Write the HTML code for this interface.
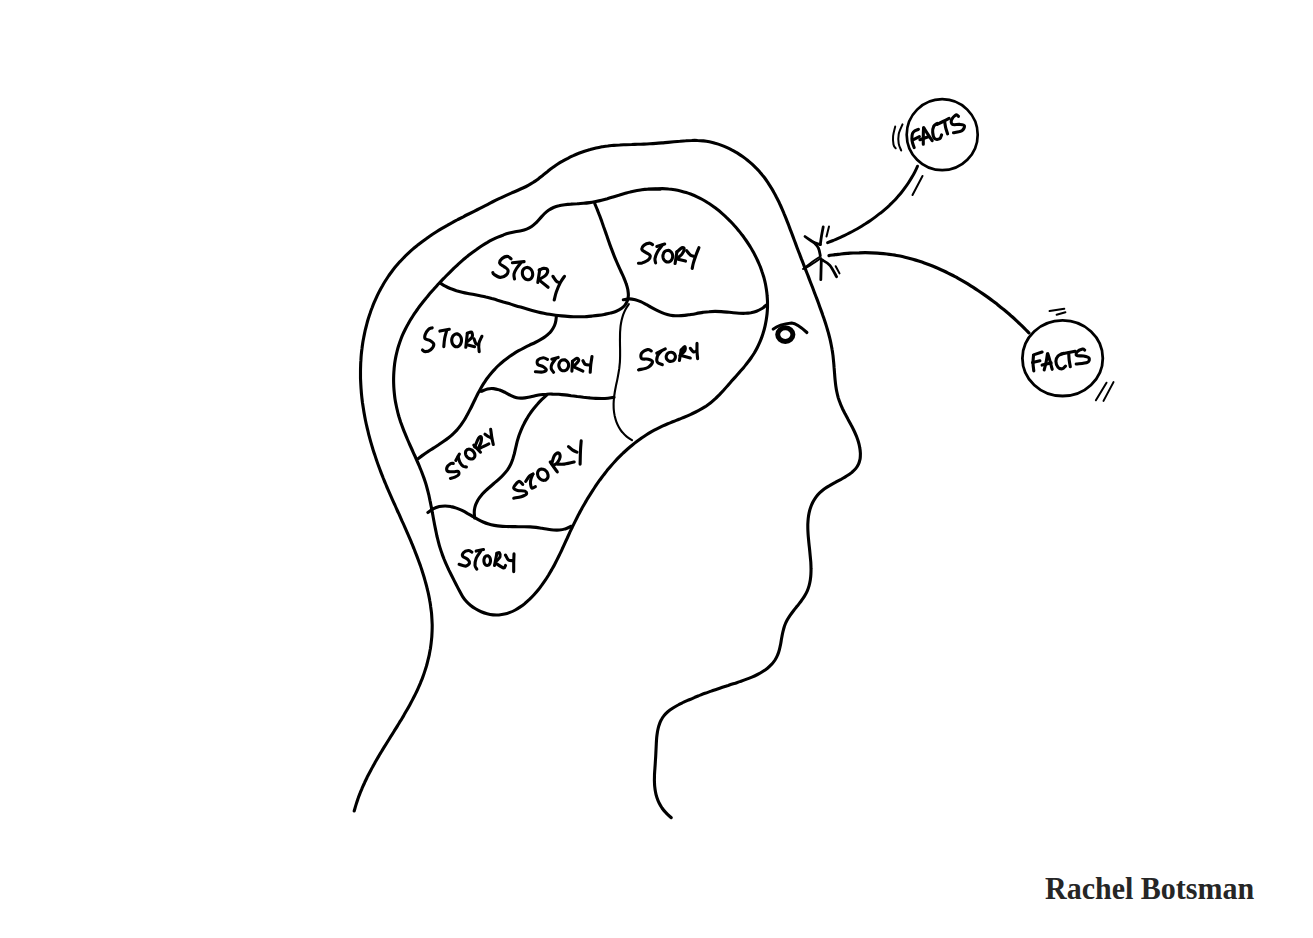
<!DOCTYPE html>
<html><head><meta charset="utf-8"><style>
html,body{margin:0;padding:0;background:#fff;width:1313px;height:938px;overflow:hidden}
svg{position:absolute;left:0;top:0}
.sig{position:absolute;left:1045px;top:872px;font-family:"Liberation Serif",serif;font-weight:bold;font-size:32px;line-height:1;color:#262626;white-space:nowrap;transform:scaleX(0.9375);transform-origin:0 0}
</style></head><body>
<svg width="1313" height="938" viewBox="0 0 1313 938">
<g fill="none" stroke="#000" stroke-width="3.1" stroke-linecap="round" stroke-linejoin="round">
<path d="M354.2 811.0 C354.5 810.0 355.3 807.1 355.9 805.1 C356.5 803.2 357.1 801.3 357.8 799.4 C358.4 797.5 359.1 795.6 359.9 793.7 C360.6 791.9 361.4 790.0 362.1 788.2 C362.9 786.4 363.7 784.5 364.6 782.7 C365.4 780.9 366.3 779.1 367.1 777.3 C368.0 775.6 368.9 773.8 369.9 772.0 C370.8 770.3 371.7 768.5 372.7 766.8 C373.6 765.0 374.6 763.3 375.6 761.5 C376.6 759.8 377.6 758.1 378.6 756.4 C379.6 754.6 380.7 752.9 381.7 751.2 C382.7 749.5 383.8 747.8 384.8 746.1 C385.9 744.4 387.0 742.7 388.0 741.0 C389.1 739.3 390.2 737.5 391.2 735.8 C392.3 734.1 393.4 732.4 394.4 730.7 C395.5 729.0 396.6 727.3 397.6 725.6 C398.7 723.9 399.7 722.1 400.8 720.4 C401.8 718.7 402.9 717.0 403.9 715.2 C404.9 713.5 405.9 711.7 406.9 710.0 C407.9 708.3 408.9 706.5 409.9 704.7 C410.8 703.0 411.8 701.2 412.7 699.4 C413.6 697.6 414.5 695.9 415.4 694.1 C416.3 692.3 417.2 690.5 418.0 688.6 C418.8 686.8 419.6 685.0 420.4 683.1 C421.1 681.3 421.9 679.4 422.6 677.6 C423.3 675.7 424.0 673.8 424.6 671.9 C425.2 670.0 425.8 668.1 426.4 666.2 C426.9 664.3 427.5 662.4 427.9 660.4 C428.4 658.5 428.9 656.5 429.3 654.6 C429.7 652.6 430.0 650.6 430.4 648.7 C430.7 646.7 431.0 644.7 431.2 642.7 C431.4 640.8 431.6 638.8 431.8 636.8 C431.9 634.8 432.0 632.8 432.1 630.8 C432.2 628.8 432.2 626.8 432.2 624.8 C432.1 622.8 432.0 620.8 431.9 618.9 C431.8 616.9 431.7 614.9 431.5 612.9 C431.3 610.9 431.0 608.9 430.7 606.9 C430.5 604.9 430.2 603.0 429.8 601.0 C429.5 599.0 429.1 597.0 428.7 595.1 C428.3 593.1 427.8 591.1 427.3 589.2 C426.9 587.2 426.4 585.3 425.8 583.3 C425.3 581.4 424.7 579.4 424.2 577.5 C423.6 575.5 423.0 573.6 422.4 571.7 C421.8 569.8 421.1 567.8 420.5 565.9 C419.8 564.0 419.1 562.1 418.4 560.2 C417.7 558.3 417.0 556.5 416.3 554.6 C415.6 552.7 414.8 550.8 414.1 549.0 C413.3 547.1 412.6 545.2 411.8 543.4 C411.1 541.5 410.3 539.7 409.5 537.9 C408.7 536.0 407.9 534.2 407.1 532.4 C406.3 530.5 405.5 528.7 404.7 526.9 C403.9 525.0 403.1 523.2 402.2 521.4 C401.4 519.6 400.6 517.8 399.8 515.9 C399.0 514.1 398.1 512.3 397.3 510.5 C396.5 508.7 395.7 506.8 394.9 505.0 C394.0 503.2 393.2 501.4 392.4 499.6 C391.6 497.7 390.8 495.9 390.0 494.1 C389.2 492.3 388.4 490.4 387.6 488.6 C386.8 486.8 386.1 484.9 385.3 483.1 C384.5 481.2 383.8 479.4 383.0 477.5 C382.3 475.7 381.5 473.8 380.8 471.9 C380.1 470.1 379.4 468.2 378.7 466.3 C378.0 464.4 377.3 462.5 376.7 460.6 C376.0 458.7 375.4 456.8 374.8 454.9 C374.1 453.0 373.5 451.1 372.9 449.2 C372.3 447.2 371.7 445.3 371.2 443.4 C370.6 441.5 370.1 439.5 369.6 437.6 C369.0 435.6 368.5 433.7 368.1 431.7 C367.6 429.8 367.1 427.8 366.7 425.9 C366.2 423.9 365.8 421.9 365.4 420.0 C365.0 418.0 364.6 416.0 364.3 414.1 C363.9 412.1 363.6 410.1 363.3 408.1 C363.0 406.2 362.7 404.2 362.4 402.2 C362.2 400.2 361.9 398.2 361.7 396.2 C361.5 394.2 361.3 392.3 361.2 390.3 C361.0 388.3 360.9 386.3 360.8 384.3 C360.7 382.3 360.6 380.3 360.5 378.3 C360.5 376.3 360.5 374.3 360.5 372.3 C360.5 370.3 360.5 368.4 360.6 366.4 C360.6 364.4 360.7 362.4 360.9 360.4 C361.0 358.4 361.1 356.4 361.3 354.4 C361.5 352.4 361.7 350.5 362.0 348.5 C362.2 346.5 362.5 344.5 362.8 342.5 C363.1 340.5 363.5 338.6 363.9 336.6 C364.3 334.6 364.7 332.7 365.1 330.7 C365.6 328.7 366.1 326.8 366.6 324.8 C367.1 322.9 367.6 320.9 368.2 319.0 C368.8 317.0 369.4 315.1 370.1 313.2 C370.7 311.3 371.4 309.4 372.2 307.5 C372.9 305.6 373.6 303.7 374.4 301.9 C375.2 300.0 376.1 298.2 376.9 296.4 C377.8 294.5 378.7 292.7 379.6 290.9 C380.5 289.2 381.5 287.4 382.5 285.7 C383.5 283.9 384.5 282.2 385.6 280.5 C386.7 278.8 387.8 277.2 388.9 275.5 C390.0 273.9 391.2 272.3 392.4 270.7 C393.6 269.2 394.8 267.6 396.1 266.1 C397.4 264.6 398.7 263.1 400.0 261.6 C401.4 260.2 402.7 258.7 404.1 257.3 C405.5 255.9 406.9 254.6 408.4 253.2 C409.8 251.9 411.3 250.5 412.8 249.2 C414.3 247.9 415.8 246.7 417.4 245.4 C418.9 244.2 420.5 242.9 422.1 241.7 C423.7 240.5 425.3 239.3 426.9 238.2 C428.5 237.0 430.2 235.9 431.8 234.8 C433.5 233.7 435.2 232.6 436.9 231.5 C438.6 230.4 440.3 229.4 442.0 228.4 C443.8 227.3 445.5 226.3 447.3 225.3 C449.0 224.3 450.8 223.4 452.6 222.4 C454.3 221.4 456.1 220.5 457.9 219.5 C459.7 218.6 461.5 217.7 463.3 216.8 C465.1 215.8 466.9 214.9 468.7 214.0 C470.5 213.1 472.3 212.2 474.1 211.3 C475.9 210.4 477.7 209.5 479.4 208.6 C481.2 207.7 483.0 206.8 484.8 205.9 C486.6 205.0 488.3 204.1 490.1 203.1 C491.9 202.2 493.6 201.3 495.4 200.4 C497.2 199.5 499.0 198.6 500.8 197.8 C502.6 196.9 504.4 196.1 506.2 195.3 C508.1 194.5 509.9 193.7 511.8 192.9 C513.7 192.1 515.5 191.4 517.4 190.5 C519.2 189.7 521.0 188.9 522.9 188.0 C524.7 187.2 526.5 186.3 528.2 185.3 C530.0 184.4 531.7 183.4 533.4 182.3 C535.0 181.2 536.7 180.1 538.3 178.9 C539.9 177.7 541.4 176.4 543.0 175.2 C544.5 173.9 546.1 172.6 547.7 171.4 C549.2 170.2 550.8 168.9 552.4 167.8 C554.1 166.6 555.7 165.4 557.4 164.3 C559.1 163.2 560.8 162.2 562.6 161.2 C564.3 160.2 566.1 159.2 567.9 158.3 C569.6 157.4 571.5 156.5 573.3 155.7 C575.1 154.8 577.0 154.0 578.8 153.3 C580.7 152.6 582.6 151.9 584.5 151.2 C586.4 150.6 588.3 150.0 590.2 149.5 C592.2 148.9 594.1 148.4 596.0 148.0 C598.0 147.6 599.9 147.2 601.9 146.8 C603.9 146.5 605.8 146.2 607.8 146.0 C609.8 145.7 611.8 145.6 613.8 145.4 C615.7 145.2 617.7 145.1 619.7 145.0 C621.7 144.8 623.7 144.8 625.7 144.7 C627.7 144.6 629.7 144.5 631.7 144.5 C633.8 144.4 635.8 144.4 637.8 144.3 C639.8 144.2 641.8 144.2 643.8 144.1 C645.8 144.0 647.9 143.9 649.9 143.8 C651.9 143.7 653.9 143.5 655.9 143.4 C657.9 143.3 659.9 143.1 661.9 142.9 C663.9 142.7 665.9 142.6 667.9 142.4 C669.9 142.2 671.9 142.0 673.9 141.8 C675.9 141.6 677.9 141.4 679.9 141.3 C681.9 141.1 683.8 140.9 685.8 140.8 C687.8 140.6 689.8 140.5 691.7 140.5 C693.7 140.4 695.7 140.4 697.6 140.5 C699.6 140.5 701.5 140.7 703.5 140.9 C705.5 141.1 707.4 141.4 709.4 141.8 C711.3 142.2 713.3 142.7 715.2 143.3 C717.1 143.8 719.1 144.4 721.0 145.1 C722.9 145.8 724.8 146.6 726.6 147.4 C728.5 148.2 730.3 149.1 732.1 150.1 C733.9 151.0 735.7 152.1 737.5 153.1 C739.2 154.2 740.9 155.3 742.6 156.5 C744.3 157.7 745.9 158.9 747.5 160.2 C749.1 161.5 750.6 162.8 752.1 164.1 C753.6 165.5 755.0 166.9 756.4 168.3 C757.8 169.8 759.2 171.2 760.4 172.7 C761.7 174.2 763.0 175.8 764.2 177.3 C765.4 178.9 766.5 180.5 767.6 182.1 C768.7 183.8 769.8 185.4 770.8 187.1 C771.9 188.8 772.9 190.5 773.8 192.2 C774.8 193.9 775.7 195.7 776.6 197.5 C777.5 199.2 778.4 201.0 779.3 202.8 C780.1 204.6 781.0 206.4 781.8 208.3 C782.6 210.1 783.4 211.9 784.1 213.8 C784.9 215.7 785.7 217.5 786.4 219.4 C787.1 221.3 787.9 223.2 788.6 225.0 C789.3 226.9 790.0 228.8 790.7 230.7 C791.5 232.6 792.2 234.5 792.9 236.4 C793.6 238.3 794.3 240.1 795.0 242.0 C795.7 243.9 796.4 245.8 797.1 247.7 C797.8 249.5 798.5 251.4 799.3 253.3 C800.0 255.2 800.7 257.0 801.4 258.9 C802.2 260.8 802.9 262.6 803.6 264.5 C804.3 266.3 805.1 268.2 805.8 270.1 C806.5 271.9 807.2 273.8 808.0 275.6 C808.7 277.5 809.4 279.4 810.1 281.2 C810.8 283.1 811.6 285.0 812.3 286.8 C813.0 288.7 813.7 290.6 814.4 292.5 C815.1 294.3 815.8 296.2 816.6 298.1 C817.3 300.0 818.0 301.8 818.7 303.7 C819.3 305.6 820.0 307.5 820.7 309.4 C821.4 311.2 822.1 313.1 822.7 315.0 C823.4 316.9 824.0 318.8 824.7 320.7 C825.3 322.6 825.9 324.5 826.5 326.4 C827.1 328.3 827.6 330.2 828.2 332.1 C828.7 334.0 829.2 336.0 829.7 337.9 C830.2 339.8 830.6 341.8 831.0 343.7 C831.4 345.7 831.8 347.7 832.1 349.6 C832.5 351.6 832.7 353.6 833.0 355.6 C833.2 357.6 833.4 359.6 833.6 361.7 C833.8 363.7 834.0 365.7 834.1 367.7 C834.3 369.8 834.4 371.8 834.6 373.8 C834.7 375.9 834.9 377.9 835.1 379.9 C835.3 381.9 835.5 383.9 835.8 385.9 C836.1 387.9 836.4 389.9 836.8 391.8 C837.2 393.8 837.7 395.7 838.2 397.6 C838.8 399.5 839.4 401.4 840.2 403.2 C840.9 405.1 841.7 406.9 842.5 408.7 C843.4 410.5 844.3 412.3 845.2 414.1 C846.2 415.9 847.2 417.6 848.1 419.4 C849.1 421.2 850.1 423.0 851.0 424.8 C852.0 426.6 852.9 428.4 853.8 430.2 C854.7 432.0 855.5 433.9 856.3 435.8 C857.0 437.7 857.7 439.6 858.3 441.5 C858.9 443.5 859.4 445.5 859.7 447.4 C860.1 449.4 860.3 451.4 860.4 453.3 C860.4 455.2 860.4 457.1 860.1 458.9 C859.7 460.7 859.3 462.5 858.5 464.1 C857.8 465.7 856.8 467.2 855.7 468.6 C854.5 470.1 853.1 471.3 851.6 472.6 C850.1 473.8 848.4 474.9 846.6 476.0 C844.9 477.2 843.0 478.2 841.1 479.3 C839.2 480.3 837.2 481.3 835.3 482.4 C833.4 483.4 831.4 484.5 829.6 485.6 C827.7 486.7 825.9 487.8 824.2 489.0 C822.6 490.3 821.0 491.6 819.6 492.9 C818.2 494.3 816.9 495.8 815.8 497.3 C814.7 498.9 813.7 500.5 812.8 502.2 C812.0 503.8 811.2 505.6 810.6 507.4 C810.0 509.1 809.5 511.0 809.1 512.9 C808.7 514.7 808.4 516.7 808.2 518.6 C808.0 520.6 807.9 522.6 807.8 524.6 C807.8 526.6 807.8 528.6 807.9 530.7 C808.0 532.7 808.1 534.8 808.3 536.9 C808.5 539.0 808.7 541.1 808.9 543.2 C809.1 545.3 809.4 547.4 809.6 549.5 C809.8 551.6 810.0 553.7 810.2 555.8 C810.4 557.9 810.6 560.0 810.8 562.1 C810.9 564.1 811.0 566.2 811.0 568.2 C811.1 570.2 811.0 572.3 810.9 574.2 C810.8 576.2 810.6 578.2 810.3 580.1 C810.0 582.0 809.6 583.9 809.1 585.7 C808.6 587.5 808.0 589.3 807.2 591.1 C806.4 592.8 805.5 594.5 804.5 596.1 C803.5 597.8 802.3 599.4 801.2 601.0 C800.0 602.6 798.7 604.2 797.5 605.8 C796.2 607.4 794.9 608.9 793.7 610.5 C792.4 612.2 791.2 613.8 790.1 615.4 C788.9 617.1 787.9 618.8 786.9 620.6 C786.0 622.3 785.2 624.1 784.5 626.0 C783.9 627.9 783.4 629.9 782.9 631.8 C782.4 633.8 782.1 635.8 781.7 637.8 C781.3 639.8 781.1 641.8 780.7 643.8 C780.3 645.8 779.9 647.7 779.4 649.6 C778.9 651.5 778.4 653.3 777.6 655.0 C776.9 656.8 776.0 658.4 775.0 660.0 C774.0 661.5 772.9 663.0 771.6 664.3 C770.4 665.7 769.0 667.0 767.5 668.2 C766.0 669.4 764.4 670.5 762.7 671.5 C761.1 672.6 759.3 673.6 757.5 674.5 C755.7 675.4 753.8 676.3 751.9 677.1 C750.0 677.9 748.0 678.7 746.0 679.4 C744.1 680.2 742.0 680.9 740.0 681.6 C738.0 682.3 736.0 682.9 734.1 683.6 C732.1 684.2 730.1 684.8 728.2 685.5 C726.2 686.1 724.3 686.7 722.4 687.3 C720.5 688.0 718.7 688.6 716.8 689.2 C714.9 689.8 713.1 690.5 711.3 691.1 C709.4 691.8 707.6 692.4 705.8 693.1 C703.9 693.7 702.1 694.4 700.3 695.1 C698.5 695.8 696.7 696.6 694.8 697.3 C693.0 698.1 691.2 698.9 689.3 699.7 C687.5 700.5 685.6 701.3 683.7 702.2 C681.9 703.1 679.9 704.0 678.1 705.0 C676.2 706.0 674.4 707.0 672.6 708.2 C670.9 709.3 669.2 710.5 667.8 711.7 C666.3 713.0 664.9 714.4 663.8 715.9 C662.6 717.4 661.7 719.0 660.9 720.6 C660.0 722.3 659.4 724.1 658.8 725.9 C658.3 727.7 657.9 729.6 657.5 731.5 C657.2 733.5 656.9 735.5 656.7 737.5 C656.5 739.5 656.4 741.6 656.3 743.7 C656.2 745.8 656.1 747.9 656.0 750.0 C655.9 752.1 655.8 754.2 655.7 756.3 C655.6 758.3 655.4 760.4 655.3 762.5 C655.2 764.5 655.0 766.6 654.9 768.6 C654.7 770.6 654.6 772.7 654.5 774.6 C654.5 776.6 654.4 778.6 654.4 780.6 C654.5 782.5 654.5 784.4 654.7 786.4 C654.9 788.3 655.1 790.1 655.5 792.0 C655.8 793.9 656.3 795.7 656.9 797.5 C657.5 799.3 658.1 801.1 659.0 802.8 C659.9 804.6 660.9 806.3 662.0 808.0 C663.2 809.7 664.5 811.3 666.1 812.9 C667.6 814.6 670.4 816.9 671.2 817.7"/>
<path d="M649.6 189.3 C650.7 189.2 654.0 188.8 656.1 188.7 C658.3 188.6 660.4 188.6 662.5 188.6 C664.5 188.6 666.6 188.8 668.6 189.0 C670.7 189.1 672.7 189.4 674.7 189.7 C676.6 190.1 678.6 190.5 680.5 190.9 C682.4 191.4 684.3 191.9 686.2 192.5 C688.1 193.1 689.9 193.8 691.8 194.5 C693.6 195.2 695.4 196.0 697.1 196.8 C698.9 197.7 700.7 198.6 702.4 199.5 C704.1 200.4 705.8 201.4 707.4 202.5 C709.1 203.5 710.7 204.6 712.3 205.7 C714.0 206.9 715.5 208.1 717.1 209.3 C718.7 210.5 720.2 211.8 721.7 213.1 C723.2 214.4 724.7 215.7 726.1 217.1 C727.6 218.5 729.0 219.9 730.4 221.3 C731.8 222.8 733.2 224.3 734.5 225.8 C735.9 227.3 737.2 228.8 738.5 230.4 C739.7 231.9 741.0 233.5 742.2 235.1 C743.5 236.7 744.6 238.4 745.8 240.0 C747.0 241.7 748.1 243.4 749.2 245.1 C750.2 246.8 751.3 248.5 752.3 250.3 C753.3 252.0 754.3 253.8 755.2 255.6 C756.1 257.4 757.0 259.2 757.8 261.0 C758.6 262.8 759.4 264.7 760.2 266.5 C760.9 268.4 761.6 270.3 762.2 272.2 C762.9 274.1 763.4 276.0 764.0 277.9 C764.5 279.8 765.0 281.8 765.4 283.7 C765.8 285.6 766.1 287.6 766.4 289.6 C766.7 291.6 767.0 293.5 767.1 295.5 C767.3 297.5 767.4 299.5 767.5 301.5 C767.5 303.5 767.5 305.5 767.5 307.5 C767.4 309.5 767.3 311.5 767.1 313.5 C766.9 315.5 766.6 317.5 766.3 319.5 C766.0 321.4 765.6 323.4 765.2 325.4 C764.8 327.3 764.3 329.3 763.7 331.2 C763.2 333.1 762.6 335.0 761.9 336.9 C761.2 338.7 760.5 340.6 759.7 342.4 C758.9 344.2 758.1 346.0 757.2 347.8 C756.3 349.6 755.3 351.3 754.3 353.0 C753.2 354.7 752.1 356.4 751.0 358.0 C749.9 359.6 748.7 361.2 747.4 362.8 C746.2 364.4 744.9 365.9 743.7 367.5 C742.4 369.0 741.0 370.5 739.7 372.0 C738.4 373.6 737.0 375.1 735.7 376.6 C734.3 378.1 732.9 379.6 731.6 381.1 C730.3 382.6 728.9 384.1 727.6 385.7 C726.2 387.2 724.9 388.7 723.6 390.2 C722.2 391.7 720.8 393.2 719.5 394.6 C718.1 396.0 716.7 397.5 715.2 398.8 C713.8 400.1 712.3 401.5 710.7 402.7 C709.2 403.9 707.6 405.1 706.0 406.2 C704.4 407.2 702.7 408.3 701.0 409.2 C699.2 410.2 697.5 411.1 695.7 412.0 C693.9 412.9 692.1 413.8 690.3 414.6 C688.4 415.4 686.6 416.2 684.7 417.0 C682.8 417.7 681.0 418.5 679.1 419.2 C677.2 420.0 675.3 420.7 673.4 421.5 C671.6 422.3 669.7 423.0 667.8 423.8 C666.0 424.6 664.1 425.4 662.3 426.2 C660.5 427.1 658.7 428.0 656.9 428.9 C655.1 429.8 653.4 430.7 651.6 431.7 C649.9 432.7 648.2 433.7 646.5 434.8 C644.9 435.8 643.2 436.9 641.6 438.0 C640.0 439.2 638.4 440.3 636.8 441.5 C635.2 442.7 633.7 443.9 632.1 445.2 C630.6 446.4 629.1 447.7 627.6 449.0 C626.1 450.3 624.7 451.6 623.2 453.0 C621.8 454.4 620.4 455.8 619.0 457.2 C617.6 458.6 616.2 460.1 614.9 461.5 C613.5 463.0 612.2 464.5 610.9 466.0 C609.6 467.5 608.3 469.1 607.0 470.6 C605.8 472.2 604.5 473.8 603.3 475.4 C602.1 477.0 600.9 478.6 599.7 480.2 C598.5 481.9 597.3 483.5 596.2 485.2 C595.1 486.9 593.9 488.6 592.8 490.3 C591.7 492.0 590.6 493.7 589.6 495.4 C588.5 497.1 587.4 498.8 586.4 500.6 C585.4 502.3 584.4 504.1 583.4 505.8 C582.4 507.6 581.4 509.4 580.5 511.1 C579.5 512.9 578.6 514.7 577.6 516.5 C576.7 518.3 575.8 520.1 574.9 521.9 C574.0 523.7 573.1 525.5 572.3 527.2 C571.4 529.0 570.6 530.8 569.7 532.6 C568.9 534.4 568.1 536.2 567.3 538.0 C566.4 539.8 565.6 541.6 564.8 543.4 C564.0 545.2 563.2 547.0 562.3 548.8 C561.5 550.6 560.7 552.3 559.8 554.1 C558.9 555.9 558.1 557.6 557.2 559.4 C556.3 561.2 555.4 562.9 554.5 564.7 C553.6 566.4 552.6 568.1 551.6 569.9 C550.6 571.6 549.6 573.3 548.6 575.0 C547.5 576.7 546.5 578.4 545.3 580.1 C544.2 581.7 543.0 583.4 541.8 585.1 C540.6 586.7 539.4 588.4 538.1 590.0 C536.8 591.6 535.4 593.2 534.0 594.7 C532.6 596.2 531.2 597.7 529.7 599.2 C528.2 600.6 526.7 602.0 525.1 603.3 C523.6 604.6 522.0 605.8 520.3 606.9 C518.7 608.0 517.0 609.1 515.3 610.0 C513.6 610.9 511.8 611.8 510.0 612.4 C508.2 613.1 506.4 613.7 504.6 614.1 C502.7 614.5 500.8 614.8 498.9 615.0 C497.0 615.1 495.0 615.1 493.1 614.9 C491.1 614.7 489.1 614.3 487.1 613.7 C485.1 613.2 483.1 612.5 481.2 611.7 C479.2 610.9 477.3 609.9 475.5 608.8 C473.7 607.7 472.0 606.5 470.4 605.2 C468.8 603.9 467.3 602.5 466.0 601.0 C464.7 599.6 463.6 598.0 462.5 596.3 C461.5 594.7 460.6 593.0 459.7 591.3 C458.8 589.6 457.9 587.9 457.0 586.1 C456.1 584.4 455.2 582.6 454.3 580.9 C453.4 579.1 452.5 577.3 451.6 575.5 C450.7 573.7 449.8 571.9 448.9 570.1 C448.1 568.3 447.2 566.4 446.4 564.6 C445.6 562.7 444.8 560.9 444.0 559.0 C443.3 557.1 442.5 555.2 441.9 553.3 C441.2 551.4 440.6 549.5 440.0 547.6 C439.4 545.7 438.9 543.8 438.4 541.8 C437.9 539.9 437.4 537.9 436.9 536.0 C436.5 534.0 436.1 532.1 435.7 530.1 C435.3 528.2 434.9 526.2 434.5 524.2 C434.1 522.3 433.8 520.3 433.4 518.3 C433.0 516.3 432.7 514.4 432.3 512.4 C432.0 510.4 431.6 508.5 431.2 506.5 C430.8 504.5 430.5 502.6 430.0 500.6 C429.6 498.7 429.2 496.7 428.8 494.8 C428.3 492.9 427.8 490.9 427.3 489.0 C426.8 487.1 426.3 485.2 425.7 483.3 C425.1 481.4 424.5 479.5 423.8 477.6 C423.1 475.8 422.4 473.9 421.7 472.0 C421.0 470.2 420.2 468.3 419.5 466.5 C418.7 464.6 417.9 462.8 417.1 461.0 C416.3 459.1 415.5 457.3 414.7 455.5 C413.8 453.7 413.0 451.8 412.2 450.0 C411.4 448.2 410.5 446.3 409.7 444.5 C408.9 442.7 408.1 440.8 407.3 439.0 C406.5 437.1 405.7 435.3 405.0 433.4 C404.2 431.6 403.5 429.7 402.8 427.9 C402.1 426.0 401.4 424.1 400.7 422.2 C400.1 420.3 399.5 418.4 398.9 416.5 C398.4 414.6 397.8 412.7 397.4 410.7 C396.9 408.8 396.5 406.8 396.1 404.9 C395.7 402.9 395.3 400.9 395.0 398.9 C394.7 397.0 394.5 395.0 394.3 393.0 C394.1 391.0 393.9 389.0 393.8 387.0 C393.7 385.0 393.6 383.0 393.6 381.1 C393.6 379.1 393.6 377.1 393.7 375.1 C393.8 373.1 393.9 371.1 394.1 369.1 C394.2 367.2 394.5 365.2 394.7 363.2 C395.0 361.3 395.3 359.3 395.7 357.4 C396.1 355.4 396.5 353.5 397.0 351.6 C397.5 349.6 398.0 347.7 398.6 345.8 C399.2 344.0 399.8 342.1 400.5 340.2 C401.2 338.4 401.9 336.5 402.7 334.7 C403.5 332.9 404.4 331.1 405.3 329.3 C406.2 327.5 407.1 325.7 408.1 324.0 C409.1 322.2 410.1 320.5 411.1 318.8 C412.2 317.1 413.3 315.4 414.4 313.7 C415.6 312.0 416.7 310.3 417.9 308.7 C419.1 307.0 420.3 305.4 421.6 303.8 C422.8 302.2 424.1 300.6 425.4 299.0 C426.6 297.4 428.0 295.9 429.3 294.3 C430.6 292.8 431.9 291.2 433.3 289.7 C434.6 288.2 436.0 286.7 437.3 285.2 C438.7 283.7 440.1 282.3 441.4 280.8 C442.8 279.4 444.2 277.9 445.6 276.5 C447.0 275.1 448.4 273.7 449.8 272.3 C451.2 270.9 452.6 269.5 454.0 268.1 C455.4 266.8 456.9 265.5 458.3 264.1 C459.8 262.8 461.3 261.5 462.8 260.2 C464.3 258.9 465.8 257.7 467.3 256.4 C468.9 255.2 470.4 253.9 472.0 252.7 C473.6 251.5 475.2 250.3 476.9 249.2 C478.5 248.0 480.2 246.9 481.9 245.8 C483.6 244.7 485.3 243.6 487.1 242.6 C488.8 241.6 490.6 240.6 492.4 239.7 C494.2 238.8 496.0 237.9 497.9 237.1 C499.7 236.3 501.6 235.5 503.5 234.9 C505.4 234.2 507.3 233.6 509.3 233.1 C511.2 232.6 513.2 232.2 515.2 231.8 C517.1 231.4 519.1 231.1 521.1 230.7 C523.0 230.3 524.9 229.8 526.6 229.1 C528.4 228.4 530.0 227.6 531.6 226.5 C533.1 225.5 534.6 224.1 536.0 222.8 C537.4 221.4 538.7 219.9 540.0 218.4 C541.4 216.9 542.7 215.4 544.1 214.0 C545.5 212.6 546.9 211.3 548.5 210.2 C550.1 209.2 551.7 208.3 553.5 207.5 C555.2 206.8 557.1 206.2 558.9 205.8 C560.8 205.3 562.8 205.0 564.8 204.7 C566.8 204.4 568.9 204.2 570.9 204.1 C573.0 203.9 575.1 203.8 577.2 203.7 C579.3 203.5 581.4 203.4 583.5 203.2 C585.5 203.1 587.6 202.9 589.6 202.6 C591.7 202.3 593.7 201.9 595.7 201.5 C597.7 201.1 599.6 200.7 601.6 200.2 C603.5 199.7 605.5 199.2 607.4 198.7 C609.3 198.1 611.2 197.6 613.1 197.0 C615.0 196.4 616.9 195.8 618.8 195.3 C620.7 194.7 622.6 194.1 624.5 193.6 C626.4 193.1 628.3 192.5 630.2 192.1 C632.1 191.6 634.0 191.1 635.9 190.7 C637.9 190.4 639.8 190.0 641.8 189.7 C643.8 189.4 645.7 189.2 647.8 189.1 C649.8 188.9 651.8 188.9 653.9 188.9 C655.9 188.9 659.1 189.2 660.2 189.3"/>
<path d="M440.0 283.0 C440.9 283.5 443.5 285.3 445.3 286.2 C447.1 287.2 448.9 288.0 450.8 288.7 C452.6 289.5 454.5 290.1 456.4 290.7 C458.3 291.2 460.3 291.7 462.2 292.2 C464.2 292.7 466.1 293.1 468.1 293.5 C470.1 293.9 472.1 294.2 474.0 294.6 C476.0 295.0 478.0 295.4 480.0 295.8 C481.9 296.2 483.9 296.6 485.9 297.1 C487.8 297.5 489.8 298.0 491.7 298.6 C493.7 299.1 495.6 299.6 497.5 300.2 C499.5 300.7 501.4 301.3 503.3 301.9 C505.2 302.4 507.2 303.0 509.1 303.6 C511.0 304.2 512.9 304.8 514.8 305.4 C516.7 306.0 518.7 306.6 520.6 307.1 C522.5 307.7 524.4 308.3 526.3 308.8 C528.3 309.4 530.2 309.9 532.1 310.4 C534.0 310.9 536.0 311.4 537.9 311.9 C539.9 312.4 541.8 312.8 543.8 313.2 C545.7 313.6 547.7 314.0 549.6 314.3 C551.6 314.6 553.6 314.9 555.5 315.2 C557.5 315.5 559.5 315.7 561.5 315.9 C563.5 316.1 565.5 316.3 567.5 316.4 C569.5 316.6 571.5 316.7 573.5 316.7 C575.5 316.8 577.5 316.8 579.5 316.8 C581.6 316.7 583.6 316.7 585.6 316.6 C587.7 316.4 589.7 316.3 591.8 316.1 C593.8 315.9 595.9 315.7 597.9 315.4 C600.0 315.1 602.1 314.8 604.2 314.4 C606.2 314.0 608.4 313.6 610.4 313.1 C612.4 312.5 614.4 312.0 616.3 311.2 C618.1 310.5 619.9 309.6 621.3 308.6 C622.8 307.5 624.1 306.3 625.2 304.9 C626.2 303.5 627.0 302.0 627.5 300.3 C628.1 298.7 628.3 297.0 628.4 295.2 C628.4 293.4 628.1 291.5 627.8 289.5 C627.4 287.6 626.8 285.6 626.1 283.6 C625.5 281.6 624.6 279.6 623.8 277.6 C622.9 275.5 621.9 273.5 621.0 271.5 C620.1 269.4 619.1 267.4 618.2 265.4 C617.4 263.5 616.5 261.5 615.7 259.6 C614.9 257.7 614.1 255.8 613.4 253.9 C612.7 252.1 612.0 250.2 611.3 248.4 C610.6 246.5 609.9 244.7 609.3 242.9 C608.6 241.1 608.0 239.3 607.4 237.5 C606.8 235.7 606.1 233.9 605.5 232.1 C604.9 230.3 604.3 228.5 603.6 226.7 C603.0 224.8 602.3 223.0 601.7 221.1 C601.0 219.3 600.3 217.4 599.6 215.5 C598.8 213.6 598.1 211.7 597.3 209.7 C596.5 207.7 595.2 204.7 594.8 203.7"/>
<path d="M623.3 299.8 C624.3 299.7 627.5 298.9 629.5 298.9 C631.5 298.9 633.4 299.3 635.3 299.7 C637.2 300.2 639.0 300.9 640.7 301.7 C642.5 302.5 644.3 303.5 646.0 304.4 C647.8 305.3 649.5 306.4 651.3 307.3 C653.0 308.3 654.8 309.3 656.5 310.1 C658.3 311.0 660.1 311.9 661.9 312.6 C663.7 313.4 665.5 314.0 667.3 314.5 C669.2 315.0 671.1 315.4 673.0 315.6 C674.9 315.8 676.8 315.8 678.8 315.8 C680.7 315.8 682.7 315.6 684.7 315.4 C686.7 315.2 688.7 314.8 690.7 314.5 C692.7 314.2 694.8 313.8 696.8 313.4 C698.8 313.1 700.9 312.7 702.9 312.4 C705.0 312.1 707.0 311.8 709.0 311.7 C711.1 311.5 713.1 311.4 715.1 311.4 C717.2 311.4 719.2 311.5 721.2 311.6 C723.2 311.7 725.2 311.9 727.2 312.1 C729.2 312.3 731.2 312.6 733.2 312.7 C735.1 312.9 737.1 313.1 739.1 313.2 C741.1 313.3 743.1 313.4 745.1 313.3 C747.0 313.2 749.0 313.0 750.9 312.7 C752.8 312.3 754.7 311.9 756.5 311.2 C758.4 310.5 760.2 309.6 762.0 308.5 C763.7 307.4 766.3 305.0 767.1 304.4"/>
<path d="M628.9 304.0 C628.3 304.9 626.6 307.4 625.6 309.2 C624.7 310.9 623.9 312.7 623.2 314.6 C622.6 316.4 622.1 318.3 621.6 320.2 C621.2 322.0 620.9 324.0 620.6 325.9 C620.4 327.8 620.3 329.8 620.1 331.8 C620.0 333.8 620.0 335.8 620.0 337.8 C619.9 339.8 620.0 341.8 620.0 343.8 C620.0 345.9 620.1 347.9 620.1 349.9 C620.1 352.0 620.1 354.0 620.1 356.0 C620.1 358.1 620.0 360.1 619.9 362.1 C619.7 364.2 619.5 366.2 619.3 368.2 C619.0 370.2 618.7 372.2 618.3 374.2 C618.0 376.2 617.6 378.2 617.2 380.1 C616.8 382.1 616.3 384.1 615.9 386.1 C615.5 388.1 615.1 390.0 614.8 392.0 C614.5 394.0 614.2 396.0 614.0 398.0 C613.8 399.9 613.6 401.9 613.6 403.9 C613.6 405.9 613.6 408.0 613.8 410.0 C614.0 412.0 614.3 414.0 614.7 415.9 C615.2 417.9 615.7 419.9 616.4 421.8 C617.1 423.6 617.9 425.5 618.9 427.2 C619.9 429.0 621.0 430.7 622.3 432.2 C623.6 433.8 625.1 435.3 626.7 436.6 C628.3 437.9 631.1 439.6 632.0 440.2" stroke-width="2.1"/>
<path d="M556.4 316.2 C556.3 317.3 556.0 320.8 555.4 322.9 C554.9 324.9 554.1 326.7 553.1 328.3 C552.1 330.0 551.0 331.5 549.7 332.8 C548.4 334.2 547.0 335.4 545.4 336.5 C543.9 337.7 542.2 338.7 540.5 339.7 C538.8 340.7 537.0 341.6 535.2 342.5 C533.4 343.4 531.5 344.2 529.6 345.1 C527.8 346.0 525.9 346.9 524.1 347.8 C522.2 348.8 520.5 349.7 518.7 350.7 C516.9 351.7 515.2 352.8 513.5 353.9 C511.8 354.9 510.2 356.1 508.6 357.2 C507.0 358.4 505.4 359.6 503.9 360.8 C502.3 362.1 500.8 363.4 499.4 364.7 C497.9 366.0 496.5 367.4 495.2 368.8 C493.8 370.2 492.5 371.7 491.2 373.2 C490.0 374.6 488.7 376.2 487.6 377.8 C486.4 379.3 485.3 381.0 484.2 382.6 C483.1 384.3 482.1 386.0 481.1 387.7 C480.1 389.5 479.2 391.3 478.2 393.1 C477.3 394.8 476.4 396.7 475.5 398.5 C474.6 400.3 473.7 402.1 472.8 404.0 C472.0 405.8 471.1 407.6 470.1 409.4 C469.2 411.2 468.3 413.0 467.3 414.8 C466.3 416.5 465.3 418.3 464.3 420.0 C463.2 421.7 462.1 423.3 461.0 424.9 C459.8 426.5 458.6 428.1 457.3 429.6 C456.0 431.0 454.6 432.5 453.1 433.8 C451.7 435.2 450.1 436.5 448.6 437.7 C447.0 439.0 445.3 440.2 443.7 441.3 C442.0 442.5 440.3 443.6 438.6 444.8 C436.9 445.9 435.1 447.0 433.4 448.1 C431.7 449.2 429.9 450.3 428.2 451.4 C426.5 452.6 424.8 453.7 423.2 454.9 C421.6 456.0 419.2 457.8 418.4 458.4"/>
<path d="M481.2 391.4 C482.3 391.0 485.4 389.4 487.5 388.9 C489.6 388.5 491.6 388.4 493.6 388.6 C495.7 388.8 497.6 389.4 499.6 390.0 C501.6 390.7 503.5 391.7 505.4 392.6 C507.3 393.6 509.2 394.8 511.1 395.7 C513.0 396.6 514.8 397.4 516.7 397.8 C518.6 398.2 520.6 398.2 522.5 398.1 C524.4 398.0 526.4 397.6 528.4 397.2 C530.4 396.9 532.3 396.3 534.3 395.9 C536.3 395.5 538.4 395.0 540.4 394.7 C542.4 394.4 544.4 394.3 546.5 394.2 C548.5 394.0 550.5 394.0 552.6 394.1 C554.6 394.1 556.7 394.2 558.7 394.3 C560.8 394.5 562.8 394.7 564.9 394.9 C566.9 395.1 569.0 395.4 571.1 395.7 C573.1 395.9 575.2 396.2 577.2 396.5 C579.3 396.7 581.4 397.0 583.4 397.3 C585.5 397.5 587.5 397.8 589.6 397.9 C591.7 398.1 593.7 398.3 595.7 398.4 C597.8 398.5 599.8 398.5 601.9 398.5 C603.9 398.5 605.9 398.4 608.0 398.2 C610.0 398.0 613.0 397.5 614.0 397.3"/>
<path d="M546.6 395.1 C545.8 395.9 543.4 398.0 541.9 399.4 C540.4 400.9 539.0 402.4 537.6 404.0 C536.2 405.5 534.9 407.1 533.6 408.7 C532.3 410.3 531.1 412.0 530.0 413.7 C528.8 415.4 527.7 417.1 526.7 418.9 C525.7 420.6 524.7 422.4 523.8 424.2 C522.8 426.0 522.0 427.9 521.2 429.8 C520.4 431.7 519.7 433.6 519.0 435.5 C518.4 437.4 517.8 439.4 517.2 441.4 C516.7 443.4 516.3 445.4 515.8 447.4 C515.3 449.4 514.9 451.5 514.4 453.5 C513.8 455.4 513.3 457.4 512.7 459.3 C512.0 461.2 511.4 463.1 510.5 464.8 C509.6 466.6 508.6 468.3 507.5 469.9 C506.3 471.5 505.0 473.0 503.6 474.5 C502.3 476.0 500.8 477.4 499.2 478.8 C497.7 480.2 496.1 481.6 494.5 482.9 C493.0 484.3 491.3 485.6 489.8 487.0 C488.2 488.4 486.7 489.7 485.2 491.1 C483.8 492.6 482.4 494.0 481.2 495.5 C479.9 497.0 478.8 498.6 477.8 500.2 C476.9 501.9 476.0 503.6 475.4 505.5 C474.8 507.3 474.4 509.2 474.3 511.3 C474.1 513.4 474.6 516.8 474.6 517.9"/>
<path d="M427.9 512.5 C428.8 511.9 431.7 509.7 433.6 508.7 C435.5 507.7 437.4 507.1 439.3 506.6 C441.3 506.1 443.2 506.0 445.1 506.0 C447.0 506.0 448.9 506.2 450.8 506.6 C452.7 506.9 454.6 507.5 456.4 508.1 C458.3 508.8 460.2 509.6 462.0 510.4 C463.8 511.3 465.6 512.3 467.3 513.3 C469.1 514.2 470.8 515.3 472.6 516.3 C474.3 517.3 476.1 518.4 477.8 519.3 C479.6 520.3 481.3 521.2 483.1 522.0 C484.9 522.8 486.7 523.5 488.6 524.1 C490.4 524.7 492.3 525.1 494.3 525.4 C496.2 525.7 498.2 526.0 500.1 526.1 C502.1 526.3 504.1 526.4 506.1 526.5 C508.1 526.6 510.1 526.6 512.1 526.6 C514.1 526.7 516.1 526.6 518.1 526.7 C520.1 526.7 522.2 526.7 524.2 526.7 C526.2 526.7 528.2 526.8 530.2 526.9 C532.2 527.0 534.2 527.2 536.1 527.4 C538.1 527.6 540.0 528.0 542.0 528.3 C543.9 528.6 545.8 529.0 547.8 529.3 C549.7 529.6 551.6 529.9 553.5 530.0 C555.5 530.1 557.4 530.2 559.3 530.0 C561.3 529.9 563.2 529.6 565.2 528.9 C567.2 528.3 570.2 526.7 571.2 526.3"/>
<path d="M827.6 242.7 C828.6 242.3 831.3 241.2 833.2 240.5 C835.0 239.7 836.9 238.9 838.7 238.1 C840.5 237.3 842.4 236.5 844.2 235.6 C846.0 234.7 847.8 233.8 849.6 232.9 C851.4 232.0 853.2 231.0 855.0 230.0 C856.8 229.1 858.5 228.1 860.3 227.0 C862.0 226.0 863.7 224.9 865.5 223.8 C867.2 222.7 868.9 221.6 870.5 220.5 C872.2 219.3 873.9 218.1 875.5 216.9 C877.1 215.7 878.7 214.5 880.3 213.2 C881.9 212.0 883.4 210.7 885.0 209.3 C886.5 208.0 888.0 206.7 889.5 205.3 C890.9 203.9 892.4 202.5 893.8 201.0 C895.2 199.6 896.5 198.1 897.9 196.6 C899.2 195.1 900.5 193.6 901.8 192.0 C903.0 190.5 904.2 188.9 905.4 187.2 C906.6 185.6 907.7 184.0 908.8 182.3 C909.9 180.6 911.0 178.9 912.0 177.1 C913.0 175.4 914.0 173.6 914.9 171.8 C915.8 170.0 917.1 167.2 917.5 166.2" stroke-width="3.0"/>
<path d="M829.0 255.6 C830.0 255.4 833.0 255.0 835.0 254.7 C837.0 254.5 839.0 254.2 841.0 254.0 C843.0 253.8 845.1 253.6 847.1 253.4 C849.1 253.3 851.1 253.1 853.1 253.0 C855.2 252.9 857.2 252.8 859.2 252.8 C861.2 252.7 863.3 252.7 865.3 252.7 C867.3 252.7 869.3 252.7 871.3 252.8 C873.3 252.9 875.3 253.0 877.3 253.1 C879.3 253.2 881.4 253.4 883.3 253.6 C885.3 253.8 887.3 254.0 889.3 254.3 C891.3 254.6 893.3 254.9 895.3 255.2 C897.2 255.6 899.2 255.9 901.2 256.3 C903.1 256.8 905.1 257.2 907.0 257.7 C909.0 258.2 910.9 258.7 912.8 259.2 C914.7 259.8 916.7 260.4 918.6 261.0 C920.5 261.6 922.4 262.2 924.3 262.9 C926.2 263.6 928.0 264.3 929.9 265.0 C931.8 265.7 933.7 266.5 935.5 267.3 C937.4 268.1 939.2 268.9 941.0 269.7 C942.9 270.5 944.7 271.4 946.5 272.3 C948.3 273.2 950.1 274.1 951.9 275.0 C953.7 275.9 955.5 276.9 957.3 277.8 C959.0 278.8 960.8 279.8 962.6 280.8 C964.3 281.8 966.1 282.9 967.8 283.9 C969.5 285.0 971.2 286.1 972.9 287.1 C974.6 288.2 976.3 289.3 978.0 290.5 C979.7 291.6 981.4 292.7 983.0 293.9 C984.7 295.1 986.3 296.2 988.0 297.4 C989.6 298.6 991.2 299.8 992.9 301.0 C994.5 302.2 996.1 303.5 997.7 304.7 C999.2 306.0 1000.8 307.2 1002.4 308.5 C1004.0 309.7 1005.5 311.0 1007.0 312.3 C1008.6 313.6 1010.1 314.9 1011.6 316.3 C1013.1 317.6 1014.6 318.9 1016.1 320.3 C1017.5 321.6 1019.0 323.0 1020.4 324.4 C1021.9 325.8 1023.3 327.2 1024.7 328.6 C1026.1 330.0 1028.2 332.2 1028.9 332.9" stroke-width="3.2"/>
<circle cx="942.2" cy="134.7" r="35.5" stroke-width="2.7"/>
<ellipse cx="1062.6" cy="358.2" rx="40.2" ry="37.8" stroke-width="2.8"/>
<ellipse cx="785.3" cy="334.6" rx="7.6" ry="6.8" stroke-width="5"/>
<path d="M773.2 329.1 C777 326 782 324 791.7 323 C797 323.5 802 328 806.9 332.5"/>
</g>
<g fill="none" stroke="#000" stroke-width="3.1" stroke-linecap="round" stroke-linejoin="round">
<path d="M511.0 258.8 C510.4 258.4 509.1 256.4 507.6 256.4 C506.1 256.3 503.4 257.4 502.1 258.5 C500.8 259.6 499.4 261.9 499.7 263.3 C500.0 264.7 502.8 265.6 504.2 266.7 C505.6 267.8 507.7 268.8 508.0 270.2 C508.3 271.6 507.5 273.8 506.2 275.0 C504.9 276.2 502.2 277.5 500.1 277.4 C498.1 277.3 495.1 275.1 493.9 274.3 C492.7 273.5 493.1 272.9 492.9 272.6"/>
<path d="M512.4 262.8 L524.1 261.6"/>
<path d="M521.0 262.6 C520.2 263.6 517.7 266.6 516.5 268.5 C515.3 270.4 514.3 272.2 514.0 274.0 C513.7 275.8 514.4 278.2 514.5 279.0"/>
<path d="M527.7 267.5 C528.0 267.7 529.1 267.9 529.7 268.3 C530.3 268.7 530.9 269.3 531.4 270.0 C531.8 270.6 532.2 271.4 532.4 272.2 C532.6 273.0 532.7 273.9 532.7 274.7 C532.6 275.5 532.4 276.3 532.1 277.0 C531.8 277.6 531.3 278.3 530.8 278.7 C530.3 279.1 529.6 279.5 528.9 279.6 C528.3 279.8 527.5 279.8 526.9 279.6 C526.2 279.4 525.5 279.0 524.9 278.6 C524.3 278.1 523.8 277.5 523.4 276.8 C522.9 276.1 522.6 275.3 522.5 274.5 C522.3 273.7 522.3 272.8 522.4 272.0 C522.5 271.2 522.8 270.4 523.1 269.8 C523.5 269.2 524.0 268.6 524.6 268.2 C525.1 267.8 525.8 267.6 526.5 267.5 C527.2 267.4 528.2 267.7 528.6 267.8"/>
<path d="M539.8 269.5 L537.8 282.5"/>
<path d="M539.1 270.2 C539.8 269.9 541.9 268.5 543.3 268.4 C544.7 268.3 546.9 268.4 547.4 269.5 C547.9 270.6 547.3 273.4 546.0 275.0 C544.7 276.6 540.8 278.4 539.8 279.1"/>
<path d="M540.5 281.1 L548.1 287.3"/>
<path d="M552.9 276.3 C553.5 277.1 555.3 280.1 556.3 281.1 C557.3 282.1 558.5 282.3 559.0 282.5"/>
<path d="M564.5 276.3 C563.8 277.3 561.8 279.9 560.4 282.5 C559.0 285.1 557.3 289.2 556.3 292.1 C555.3 295.0 554.6 298.7 554.2 300.0"/>
<path d="M652.5 244.6 C652.0 244.3 650.9 243.0 649.5 243.1 C648.1 243.2 645.3 244.1 644.0 245.2 C642.7 246.3 641.6 248.3 641.9 249.5 C642.2 250.7 644.4 251.5 645.8 252.5 C647.2 253.5 649.7 254.4 650.1 255.6 C650.5 256.8 649.6 258.7 648.3 259.9 C647.0 261.1 643.8 262.3 642.2 262.9 C640.6 263.4 639.1 263.1 638.5 263.2"/>
<path d="M656.8 246.5 L664.7 244.0"/>
<path d="M662.3 245.2 C661.5 246.3 658.6 249.7 657.4 251.9 C656.2 254.1 655.3 256.8 655.0 258.6 C654.7 260.4 655.5 262.2 655.6 262.9"/>
<path d="M669.5 250.7 C669.8 251.0 670.7 251.4 671.1 252.0 C671.6 252.5 672.0 253.2 672.3 253.9 C672.5 254.6 672.7 255.4 672.7 256.1 C672.7 256.9 672.6 257.7 672.3 258.4 C672.1 259.1 671.7 259.8 671.2 260.3 C670.8 260.9 670.2 261.3 669.6 261.6 C669.0 261.9 668.3 262.0 667.6 262.0 C667.0 262.0 666.3 261.8 665.7 261.5 C665.1 261.1 664.6 260.6 664.2 260.1 C663.7 259.5 663.4 258.8 663.2 258.1 C663.0 257.3 662.9 256.5 662.9 255.8 C663.0 255.0 663.2 254.2 663.5 253.5 C663.7 252.8 664.2 252.2 664.7 251.7 C665.2 251.2 665.8 250.8 666.4 250.6 C667.0 250.4 667.7 250.4 668.4 250.4 C669.0 250.5 669.9 251.1 670.2 251.2"/>
<path d="M676.9 251.9 L675.1 263.5"/>
<path d="M676.9 251.9 C677.7 251.2 680.6 248.2 681.8 247.7 C683.0 247.2 684.2 247.8 684.2 248.9 C684.2 250.0 683.0 252.8 681.8 254.4 C680.6 256.0 677.7 257.9 676.9 258.6"/>
<path d="M678.1 259.2 L685.5 261.1"/>
<path d="M686.7 250.7 C687.3 251.4 689.2 254.1 690.3 255.0 C691.4 255.9 692.9 256.0 693.4 256.2"/>
<path d="M698.9 247.7 C698.4 249.0 696.7 253.1 695.8 255.6 C694.9 258.1 694.0 260.8 693.4 262.9 C692.8 265.0 692.4 267.5 692.2 268.4"/>
<path d="M432.2 327.8 C431.6 328.1 429.5 328.5 428.3 329.6 C427.1 330.7 425.7 333.0 425.2 334.5 C424.7 336.0 424.4 337.8 425.2 338.8 C426.0 339.8 428.7 339.7 430.1 340.6 C431.5 341.5 433.7 342.8 433.8 344.3 C433.9 345.8 432.1 348.5 430.7 349.7 C429.3 350.9 426.6 351.6 425.2 351.6 C423.8 351.7 422.9 350.3 422.5 350.0"/>
<path d="M439.9 331.1 L449.3 329.3"/>
<path d="M446.6 330.8 C446.3 332.0 445.2 335.6 444.7 338.2 C444.2 340.8 443.9 345.3 443.8 346.7"/>
<path d="M458.3 334.3 C458.6 334.5 459.5 335.1 459.9 335.6 C460.4 336.2 460.8 337.0 461.1 337.7 C461.3 338.5 461.5 339.4 461.5 340.2 C461.5 341.1 461.4 342.0 461.1 342.7 C460.9 343.5 460.5 344.3 460.0 344.9 C459.6 345.5 459.0 346.0 458.4 346.3 C457.8 346.6 457.1 346.7 456.4 346.7 C455.8 346.7 455.1 346.5 454.5 346.1 C453.9 345.7 453.4 345.2 453.0 344.6 C452.5 343.9 452.2 343.2 452.0 342.4 C451.8 341.6 451.7 340.6 451.7 339.8 C451.8 339.0 452.0 338.1 452.3 337.3 C452.5 336.6 453.0 335.9 453.5 335.4 C454.0 334.8 454.6 334.4 455.2 334.2 C455.8 333.9 456.5 333.8 457.2 333.9 C457.8 334.0 458.7 334.6 459.1 334.8"/>
<path d="M467.3 333.3 L465.8 347.3"/>
<path d="M467.3 333.3 C468.0 333.1 470.7 331.5 471.5 332.1 C472.3 332.7 472.8 335.4 472.2 336.9 C471.6 338.4 468.6 340.5 467.9 341.2"/>
<path d="M467.9 344.9 L474.6 346.7"/>
<path d="M474.0 338.8 C474.3 339.6 475.2 342.7 475.8 343.6 C476.4 344.5 477.3 344.2 477.6 344.3"/>
<path d="M481.9 336.3 C481.4 337.5 479.3 341.1 478.9 343.6 C478.4 346.2 479.1 350.3 479.2 351.6"/>
<path d="M547.5 359.5 C546.8 359.2 544.9 357.6 543.3 357.7 C541.7 357.8 538.7 359.0 537.8 360.1 C536.9 361.2 536.9 363.3 537.8 364.4 C538.7 365.5 541.9 365.9 543.3 366.8 C544.7 367.7 546.4 369.0 546.3 369.9 C546.2 370.8 544.5 371.7 542.7 372.0 C540.9 372.3 536.6 371.8 535.4 371.7"/>
<path d="M551.8 359.2 L558.2 357.4"/>
<path d="M555.5 358.9 C554.9 359.8 552.5 362.8 551.8 364.4 C551.1 366.0 550.9 367.3 551.2 368.6 C551.5 369.9 553.2 371.7 553.6 372.3"/>
<path d="M565.4 360.1 C565.7 360.3 566.6 360.8 567.0 361.3 C567.5 361.8 567.9 362.4 568.2 363.1 C568.4 363.7 568.6 364.5 568.6 365.2 C568.6 366.0 568.5 366.7 568.2 367.4 C568.0 368.1 567.6 368.7 567.1 369.2 C566.7 369.7 566.1 370.2 565.5 370.4 C564.9 370.7 564.2 370.8 563.5 370.8 C562.9 370.8 562.2 370.6 561.6 370.3 C561.0 370.0 560.5 369.5 560.1 369.0 C559.6 368.4 559.3 367.7 559.1 367.1 C558.9 366.4 558.8 365.6 558.8 364.9 C558.9 364.2 559.1 363.4 559.4 362.8 C559.6 362.1 560.1 361.5 560.6 361.0 C561.1 360.6 561.7 360.2 562.3 360.0 C562.9 359.8 563.6 359.8 564.3 359.8 C564.9 359.9 565.8 360.4 566.2 360.5"/>
<path d="M572.5 361.3 L571.9 371.1"/>
<path d="M572.5 361.3 C573.2 360.8 575.8 358.4 576.8 358.3 C577.8 358.2 579.1 359.4 578.6 360.7 C578.1 362.0 574.6 365.3 573.8 366.2"/>
<path d="M573.8 366.8 L582.9 371.1"/>
<path d="M582.9 360.7 C583.3 361.3 584.2 363.7 585.3 364.4 C586.4 365.1 588.9 364.9 589.6 365.0"/>
<path d="M592.0 356.5 C591.8 357.8 591.1 361.8 590.8 364.4 C590.5 367.0 590.3 371.0 590.2 372.3"/>
<path d="M651.3 351.0 C650.7 350.8 649.3 349.1 647.7 349.5 C646.1 349.9 642.6 351.7 641.6 353.2 C640.6 354.7 640.5 357.6 641.6 358.6 C642.7 359.6 646.5 358.7 648.3 359.2 C650.1 359.7 652.5 360.4 652.5 361.7 C652.5 363.0 650.6 365.8 648.3 367.2 C646.0 368.6 640.1 369.4 638.5 369.9"/>
<path d="M656.8 353.2 L665.3 348.9"/>
<path d="M661.1 351.3 C660.5 352.1 658.0 354.4 657.4 356.2 C656.8 358.0 656.6 360.9 657.4 362.3 C658.2 363.7 661.5 364.3 662.3 364.7"/>
<path d="M672.4 352.5 C672.6 352.6 673.5 353.0 673.9 353.4 C674.4 353.9 674.8 354.4 675.0 354.9 C675.3 355.5 675.4 356.1 675.4 356.7 C675.4 357.4 675.3 358.0 675.0 358.6 C674.8 359.1 674.4 359.7 674.0 360.1 C673.6 360.5 673.0 360.9 672.5 361.1 C671.9 361.3 671.3 361.4 670.6 361.4 C670.0 361.4 669.4 361.2 668.9 361.0 C668.3 360.7 667.8 360.3 667.4 359.9 C667.0 359.4 666.6 358.8 666.4 358.3 C666.3 357.7 666.2 357.0 666.2 356.4 C666.3 355.8 666.4 355.2 666.7 354.7 C667.0 354.1 667.4 353.6 667.9 353.2 C668.3 352.9 668.9 352.6 669.5 352.4 C670.1 352.2 670.8 352.2 671.4 352.2 C671.9 352.3 672.8 352.7 673.1 352.8"/>
<path d="M681.2 350.1 L679.4 360.5"/>
<path d="M681.2 350.1 C681.8 349.5 684.2 346.4 684.8 346.5 C685.4 346.6 685.6 349.2 684.8 350.7 C684.0 352.2 680.8 354.8 680.0 355.6"/>
<path d="M681.2 355.6 L690.3 358.0"/>
<path d="M690.3 348.3 C690.8 348.9 692.5 351.4 693.4 351.9 C694.3 352.4 695.4 351.4 695.8 351.3"/>
<path d="M697.0 343.4 C697.0 344.7 696.9 348.8 697.0 351.3 C697.1 353.8 697.5 357.4 697.6 358.6"/>
<path d="M453.3 463.4 C452.8 463.4 451.5 463.0 450.4 463.7 C449.3 464.4 447.3 466.2 446.9 467.5 C446.5 468.8 446.7 470.7 447.8 471.4 C448.9 472.1 451.9 471.7 453.6 471.7 C455.3 471.7 457.2 470.9 458.1 471.4 C459.0 471.9 459.2 473.7 458.7 474.6 C458.2 475.6 456.3 476.5 454.9 477.1 C453.5 477.7 451.1 478.2 450.4 478.4"/>
<path d="M455.8 460.5 L459.4 454.1"/>
<path d="M458.1 456.6 C458.4 457.6 459.1 460.8 460.0 462.4 C460.9 464.0 462.1 465.4 463.2 466.2 C464.3 466.9 465.9 466.8 466.4 466.9"/>
<path d="M468.0 449.3 C468.3 449.3 469.2 449.1 469.9 449.2 C470.5 449.3 471.2 449.6 471.7 450.0 C472.3 450.3 472.9 450.8 473.4 451.4 C473.8 451.9 474.2 452.6 474.5 453.2 C474.8 453.8 474.9 454.5 474.9 455.2 C474.9 455.8 474.8 456.5 474.6 457.0 C474.4 457.5 474.0 458.0 473.6 458.3 C473.1 458.7 472.6 458.9 472.0 459.0 C471.4 459.1 470.7 459.0 470.1 458.9 C469.5 458.7 468.8 458.4 468.3 458.0 C467.7 457.6 467.1 457.0 466.7 456.5 C466.3 455.9 466.0 455.2 465.7 454.6 C465.5 453.9 465.4 453.2 465.5 452.6 C465.5 452.0 465.7 451.4 466.0 450.9 C466.2 450.4 466.7 450.0 467.1 449.7 C467.6 449.4 468.5 449.3 468.8 449.2"/>
<path d="M473.8 445.1 L480.5 452.2"/>
<path d="M474.7 447.0 C475.4 445.5 477.5 439.8 478.6 438.1 C479.7 436.4 480.7 436.2 481.1 436.8 C481.5 437.4 481.5 440.1 481.1 441.9 C480.7 443.7 479.0 446.7 478.6 447.7"/>
<path d="M479.8 448.3 C480.4 448.0 482.2 447.1 483.7 446.4 C485.2 445.6 487.9 444.2 488.8 443.8"/>
<path d="M485.0 434.2 C485.6 434.6 487.7 436.1 488.8 436.8 C489.9 437.5 491.0 437.9 491.4 438.1"/>
<path d="M490.7 429.4 C490.9 430.6 491.3 434.3 491.7 436.8 C492.1 439.3 493.0 443.2 493.3 444.5"/>
<path d="M522.7 484.4 C522.1 483.9 520.5 481.4 519.3 481.4 C518.1 481.4 516.5 483.3 515.6 484.4 C514.7 485.5 513.4 487.1 513.7 488.1 C514.0 489.1 515.6 489.9 517.5 490.4 C519.4 490.9 523.4 490.5 524.9 491.1 C526.4 491.7 527.0 493.2 526.4 494.1 C525.8 495.0 523.3 496.0 521.2 496.7 C519.1 497.4 515.0 497.9 513.7 498.2"/>
<path d="M525.7 481.4 C526.3 480.5 528.2 477.4 529.4 476.2 C530.6 475.0 532.5 474.4 533.1 474.0"/>
<path d="M532.8 474.3 C532.5 475.1 531.3 477.6 530.9 479.2 C530.5 480.8 530.3 482.2 530.5 483.7 C530.7 485.2 531.2 487.6 532.0 488.1 C532.8 488.6 534.8 486.9 535.4 486.6"/>
<path d="M540.9 469.1 C541.3 469.1 542.3 469.0 543.0 469.2 C543.7 469.4 544.5 469.7 545.1 470.1 C545.7 470.6 546.3 471.2 546.8 471.8 C547.2 472.5 547.6 473.2 547.8 474.0 C548.0 474.7 548.1 475.5 548.1 476.2 C548.0 477.0 547.8 477.7 547.5 478.3 C547.1 478.8 546.6 479.4 546.1 479.7 C545.6 480.1 544.9 480.3 544.2 480.3 C543.6 480.4 542.8 480.3 542.1 480.1 C541.4 479.8 540.7 479.4 540.1 478.9 C539.5 478.5 538.9 477.8 538.5 477.1 C538.1 476.5 537.8 475.7 537.7 474.9 C537.5 474.2 537.5 473.4 537.6 472.7 C537.7 472.0 538.0 471.3 538.4 470.8 C538.8 470.2 539.3 469.8 539.9 469.5 C540.4 469.2 541.5 469.1 541.8 469.0"/>
<path d="M550.2 462.0 C550.8 462.8 552.5 465.4 553.7 467.0 C554.9 468.6 556.7 471.1 557.3 471.9"/>
<path d="M551.6 464.1 C552.1 462.7 553.2 457.6 554.4 455.7 C555.6 453.8 557.8 452.7 558.7 452.9 C559.7 453.1 560.3 455.5 560.1 457.1 C559.9 458.7 558.5 461.3 557.3 462.7 C556.1 464.1 553.7 465.1 553.0 465.6"/>
<path d="M557.3 464.1 C558.5 464.1 561.5 464.5 564.3 464.1 C567.1 463.8 572.6 462.4 574.2 462.0"/>
<path d="M568.5 446.6 C569.2 447.2 571.3 449.2 572.7 450.1 C574.1 451.0 576.3 451.9 577.0 452.2"/>
<path d="M581.2 440.9 C581.1 442.4 580.7 446.2 580.5 450.1 C580.3 454.0 580.2 461.8 580.1 464.1"/>
<path d="M471.9 552.1 C471.3 551.8 469.7 550.4 468.3 550.5 C466.9 550.6 464.3 551.7 463.4 552.7 C462.5 553.7 462.1 555.2 462.8 556.3 C463.5 557.4 466.6 558.3 467.7 559.4 C468.8 560.5 469.8 561.9 469.5 563.0 C469.2 564.1 467.5 565.9 465.8 566.1 C464.1 566.3 460.2 564.6 459.1 564.3"/>
<path d="M476.2 551.1 L483.5 549.6"/>
<path d="M480.5 551.5 C479.8 552.6 477.1 555.9 476.2 558.2 C475.3 560.5 474.9 563.7 475.0 565.5 C475.1 567.3 476.5 568.5 476.8 569.1"/>
<path d="M488.3 556.0 C488.5 556.2 489.1 556.6 489.5 557.0 C489.8 557.5 490.0 558.0 490.2 558.6 C490.4 559.2 490.5 559.9 490.5 560.5 C490.5 561.2 490.4 561.9 490.2 562.5 C490.1 563.1 489.8 563.7 489.5 564.1 C489.2 564.6 488.8 564.9 488.4 565.2 C488.0 565.4 487.5 565.5 487.1 565.5 C486.7 565.5 486.2 565.3 485.8 565.0 C485.4 564.8 485.0 564.3 484.7 563.9 C484.5 563.4 484.2 562.8 484.1 562.2 C483.9 561.6 483.9 560.9 483.9 560.2 C483.9 559.6 484.1 558.9 484.3 558.3 C484.5 557.8 484.8 557.2 485.1 556.8 C485.4 556.4 485.9 556.1 486.3 555.9 C486.7 555.7 487.2 555.7 487.6 555.7 C488.0 555.8 488.6 556.3 488.8 556.4"/>
<path d="M496.9 553.3 L494.5 565.5"/>
<path d="M496.9 553.3 C497.3 553.2 498.9 552.1 499.4 552.7 C499.9 553.3 500.4 555.6 500.0 556.9 C499.6 558.2 497.4 560.0 496.9 560.6"/>
<path d="M496.3 563.6 C497.5 564.3 502.1 567.6 503.6 567.9 C505.1 568.2 505.2 565.9 505.5 565.5"/>
<path d="M505.5 555.1 C506.0 555.9 507.2 559.1 508.5 560.0 C509.8 560.9 512.6 560.5 513.4 560.6"/>
<path d="M514.0 553.9 C514.0 555.3 513.8 559.4 513.7 562.4 C513.7 565.4 513.7 570.1 513.7 571.6"/>
<path d="M914.2 147.6 C913.9 146.8 913.0 144.5 912.6 143.0 C912.2 141.5 911.9 140.3 911.9 138.7 C911.9 137.1 912.0 134.8 912.5 133.5 C913.0 132.2 913.9 131.5 914.9 130.8 C915.9 130.1 917.8 129.6 918.4 129.3"/>
<path d="M913.4 139.7 L919.4 136.7"/>
<path d="M923.3 144.2 C923.3 142.8 923.2 138.7 923.3 136.0 C923.3 133.3 923.5 129.2 923.6 127.8"/>
<path d="M923.8 127.8 C924.4 128.7 925.9 131.2 927.3 133.3 C928.7 135.5 931.4 139.5 932.2 140.7"/>
<path d="M919.9 139.7 L928.3 136.7"/>
<path d="M937.2 123.4 C936.6 123.9 934.5 124.8 933.7 126.3 C933.0 127.8 932.5 130.2 932.7 132.3 C932.9 134.4 933.5 137.6 934.7 138.7 C935.9 139.8 938.6 139.3 939.7 138.7 C940.9 138.0 941.3 135.5 941.6 134.8"/>
<path d="M937.2 124.4 C938.2 123.9 941.0 122.5 943.0 121.5 C945.0 120.5 948.1 118.9 949.1 118.4"/>
<path d="M944.6 121.4 C944.8 122.4 945.1 125.2 945.6 127.3 C946.1 129.4 947.3 132.7 947.6 133.8"/>
<path d="M958.5 116.4 C958.1 116.2 957.2 114.3 956.0 114.9 C954.8 115.5 952.1 118.3 951.5 119.9 C950.9 121.5 951.2 123.7 952.5 124.4 C953.8 125.2 957.5 124.2 959.5 124.4 C961.5 124.6 964.0 124.7 964.4 125.8 C964.8 126.9 963.7 129.6 961.9 130.8 C960.1 132.0 954.9 132.5 953.5 132.8"/>
<path d="M1033.8 370.9 C1033.7 369.6 1033.0 365.5 1033.0 362.9 C1033.0 360.3 1033.4 356.7 1033.5 355.5"/>
<path d="M1033.5 354.9 L1042.1 352.0"/>
<path d="M1032.5 362.4 L1039.9 360.8"/>
<path d="M1044.2 369.9 C1044.5 368.5 1045.8 364.0 1046.3 361.3 C1046.8 358.6 1047.2 355.1 1047.4 353.9"/>
<path d="M1047.9 353.9 C1048.3 355.1 1049.4 358.7 1050.1 361.3 C1050.8 363.9 1051.8 368.0 1052.2 369.3"/>
<path d="M1042.1 365.1 L1051.1 362.9"/>
<path d="M1063.4 353.3 C1062.5 353.8 1059.2 354.7 1058.0 356.0 C1056.8 357.3 1055.9 359.4 1055.9 361.3 C1055.9 363.2 1056.9 365.9 1058.0 367.2 C1059.1 368.4 1061.0 369.0 1062.3 368.8 C1063.5 368.6 1065.0 366.6 1065.5 366.1"/>
<path d="M1061.2 353.9 L1075.1 351.2"/>
<path d="M1068.7 352.8 C1068.8 354.1 1068.9 358.0 1069.2 360.3 C1069.5 362.6 1070.1 365.6 1070.3 366.7"/>
<path d="M1084.7 350.1 C1084.3 349.9 1083.8 348.8 1082.6 349.1 C1081.3 349.4 1078.2 350.6 1077.2 351.7 C1076.2 352.8 1075.6 354.8 1076.7 355.5 C1077.8 356.2 1081.5 355.6 1083.6 356.0 C1085.6 356.4 1088.4 357.0 1089.0 358.1 C1089.6 359.2 1089.5 361.4 1087.4 362.4 C1085.3 363.4 1078.1 363.7 1076.2 364.0"/>
<path d="M805.0 236.5 C805.8 237.1 808.5 239.0 810.0 240.0 C811.5 241.0 812.3 241.7 814.0 242.5 C815.7 243.3 819.2 244.2 820.3 244.6" stroke-width="2.8"/>
<path d="M820.3 244.6 C820.5 243.2 821.0 238.9 821.5 236.0 C822.0 233.1 822.9 228.4 823.2 226.9" stroke-width="2.8"/>
<path d="M813.6 242.2 C814.4 243.2 817.3 245.8 818.4 248.0 C819.5 250.2 820.0 254.4 820.3 255.7" stroke-width="2.8"/>
<path d="M821.3 259.5 L820.8 279.7" stroke-width="2.8"/>
<path d="M822.2 260.0 C823.5 260.9 827.5 262.5 829.9 265.3 C832.3 268.1 835.5 274.9 836.6 276.8" stroke-width="2.8"/>
</g>
<g fill="none" stroke="#000" stroke-width="2" stroke-linecap="round" stroke-linejoin="round">
<path d="M895.2 126.6 C894.9 128.2 893.4 133.0 893.1 136.0 C892.8 139.0 893.1 142.4 893.5 144.5 C893.9 146.6 895.3 147.7 895.7 148.3"/>
<path d="M902.5 124.4 C901.9 126.0 899.3 131.0 898.7 134.2 C898.1 137.4 898.3 140.9 898.7 143.6 C899.1 146.3 900.8 149.3 901.2 150.5"/>
<path d="M922.5 176.0 L912.5 195.0"/>
<path d="M1049.6 311.1 L1064.3 308.8"/>
<path d="M1056.6 314.7 L1065.4 312.3"/>
<path d="M1095.9 400.3 L1106.5 382.7"/>
<path d="M1103.5 400.9 L1113.5 382.1"/>
<path d="M829.0 226.4 L826.5 236.5"/>
<path d="M820.3 256.5 C818.9 257.4 814.9 259.9 812.0 262.0 C809.1 264.1 804.5 267.8 803.0 269.0"/>
<path d="M821.0 258.0 C819.7 258.9 815.7 261.8 813.0 263.5 C810.3 265.2 806.3 267.7 805.0 268.5"/>
<path d="M835.7 266.2 L839.5 273.4"/>
</g>
</svg>
<div class="sig">Rachel Botsman</div>
</body></html>
